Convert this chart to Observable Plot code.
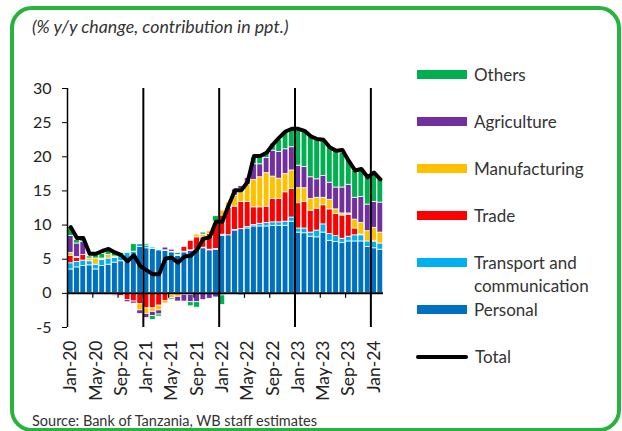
<!DOCTYPE html>
<html><head><meta charset="utf-8">
<script src="https://cdn.jsdelivr.net/npm/d3@7"></script>
<script src="https://cdn.jsdelivr.net/npm/@observablehq/plot@0.6"></script>
<style>
html,body{margin:0;padding:0;background:#fff;}
#wrap{position:relative;width:622px;height:431px;overflow:hidden;font-family:Lato,"DejaVu Sans",sans-serif;background:#fff;}
#chart{position:absolute;left:0;top:0;}
#frame{position:absolute;left:10px;top:6px;width:611px;height:426px;box-sizing:border-box;border:4.5px solid #28B43C;border-radius:22px;pointer-events:none;}
#title{position:absolute;left:32px;top:16px;font-size:17.8px;line-height:20px;font-style:italic;color:#333;white-space:nowrap;}
#source{position:absolute;left:32px;top:413px;font-size:14.5px;line-height:16px;color:#333;white-space:nowrap;}
#legend{position:absolute;left:417px;top:63px;}
.item{display:flex;height:47px;align-items:flex-start;}
.sw{width:50px;height:9px;margin-top:7px;flex:none;}
.swline{width:52px;height:4.5px;margin-top:9.5px;margin-left:-1px;border-radius:2.5px;background:#000;flex:none;}
.lab{margin-left:7px;font-size:17px;line-height:23px;color:#333;white-space:nowrap;}
</style>
</head><body>
<div id="wrap">
  <div id="chart"></div>
  <div id="title">(% y/y change, contribution in ppt.)</div>
  <div id="legend"></div>
  <div id="source">Source: Bank of Tanzania, WB staff estimates</div>
  <div id="frame"></div>
</div>
<script>
const months = ["Jan-20","Feb-20","Mar-20","Apr-20","May-20","Jun-20","Jul-20","Aug-20","Sep-20","Oct-20","Nov-20","Dec-20",
"Jan-21","Feb-21","Mar-21","Apr-21","May-21","Jun-21","Jul-21","Aug-21","Sep-21","Oct-21","Nov-21","Dec-21",
"Jan-22","Feb-22","Mar-22","Apr-22","May-22","Jun-22","Jul-22","Aug-22","Sep-22","Oct-22","Nov-22","Dec-22",
"Jan-23","Feb-23","Mar-23","Apr-23","May-23","Jun-23","Jul-23","Aug-23","Sep-23","Oct-23","Nov-23","Dec-23",
"Jan-24","Feb-24"];

const seriesNames = ["Personal","Transport and communication","Trade","Manufacturing","Agriculture","Others"];
const seriesColors = ["#0070C0","#00B0F0","#FF0000","#FFC000","#7030A0","#00B050"];

const personal = [3.5,3.8,4.0,4.1,3.5,4.0,4.2,4.5,4.7,4.9,5.4,6.8,
6.6,6.5,6.3,6.2,6.0,5.5,6.0,6.2,6.3,6.6,6.3,6.4,
8.4,8.5,9.2,9.4,9.5,9.8,9.8,9.8,9.9,9.9,9.9,10.5,
8.9,8.8,8.3,8.2,8.9,7.7,7.5,7.4,7.6,7.6,7.6,6.8,
6.6,6.4];
const transport = [0.9,0.8,0.8,0.6,0.7,0.9,0.9,0.7,0.9,1.0,0.7,0.4,
0.4,0.2,0.1,0.1,0.1,0.1,0.1,0.1,0.1,0.1,0.1,0.1,
0.2,-0.1,0.1,-0.3,0.2,0.2,0.4,0.5,0.5,0.5,0.6,0.6,
0.6,0.7,0.6,1.0,1.2,1.0,0.9,0.6,0.7,0.9,0.9,0.8,
0.9,0.9];
const trade = [1.1,0.6,0.8,0.0,-0.2,-0.1,-0.2,-0.3,-0.4,-1.0,-1.2,-1.6,
-2.2,-2.2,-1.8,-1.1,-0.2,-0.1,0.7,1.4,1.8,1.5,2.3,3.8,
2.8,4.0,3.4,4.0,3.7,2.6,2.4,2.4,3.4,3.4,4.3,4.2,
3.7,3.9,3.2,3.2,2.8,3.6,3.2,3.4,3.2,1.0,0.1,-0.1,
0.2,0.0];
const manufacturing = [0.4,0.1,0.0,0.4,0.9,0.2,0.5,0.2,0.0,0.0,0.0,-0.9,
-0.8,-0.5,-0.7,-0.4,-0.5,-0.4,-0.2,-0.2,0.4,0.4,0.4,0.2,
0.7,0.8,1.6,1.9,2.5,4.0,4.4,4.9,3.3,3.0,2.7,2.7,
2.2,2.0,1.7,1.6,1.1,1.4,0.7,0.3,0.2,1.3,1.7,1.5,
1.9,1.6];
const agriculture = [2.5,2.0,1.9,-0.2,-0.1,0.0,0.0,-0.1,0.0,-0.3,-0.3,-0.5,
-0.6,-0.6,-0.6,0.4,0.3,-0.7,-1.0,-1.1,-1.3,-1.0,-0.8,-0.6,
-0.3,0.0,0.9,0.4,1.0,2.3,1.9,2.2,3.8,3.9,3.6,3.4,
3.3,3.1,3.2,2.7,3.2,2.5,3.2,3.8,4.2,3.2,3.8,3.9,
3.8,4.4];
const others = [1.3,0.5,0.3,0.3,0.5,0.7,0.8,0.5,0.3,0.1,1.1,0.1,
0.2,-0.6,-0.3,0.0,-0.2,0.3,0.0,-0.6,-0.8,0.3,0.0,0.8,
-1.4,0.0,0.0,0.0,0.0,1.0,1.0,0.9,1.0,1.8,2.5,2.6,
5.1,5.1,6.1,5.9,5.1,5.2,5.4,5.1,3.6,4.0,4.2,4.1,
4.3,3.5];
const total = [9.7,8.1,8.1,5.8,5.8,6.2,6.5,6.0,5.6,4.7,5.6,4.0,
3.4,2.8,2.8,5.1,5.2,4.5,5.4,5.5,6.4,8.0,8.2,10.5,
10.5,12.9,15.1,15.1,16.3,20.1,20.1,20.6,21.8,22.8,23.7,24.1,
24.1,23.8,23.0,22.6,22.5,21.4,20.9,21.0,19.4,18.0,18.2,17.0,
17.7,16.7];

const yTicks = [-5,0,5,10,15,20,25,30];
const tickEvery = 4;

const seriesValues = [personal, transport, trade, manufacturing, agriculture, others];

// stack positives up and negatives down, in series order
const rects = [];
months.forEach((m, i) => {
  let pos = 0, neg = 0;
  seriesValues.forEach((vals, s) => {
    const v = vals[i];
    if (!v) return;
    if (v > 0) { rects.push({i, series: seriesNames[s], y1: pos, y2: pos + v}); pos += v; }
    else { rects.push({i, series: seriesNames[s], y1: neg + v, y2: neg}); neg += v; }
  });
});
const totalData = total.map((v, i) => ({i, v}));
const tickIdx = d3.range(0, months.length, tickEvery);
const yearIdx = months.map((m, i) => (i > 0 && m.startsWith("Jan")) ? i : null).filter(d => d !== null);
const yMin = yTicks[0], yMax = yTicks[yTicks.length - 1];

const chart = Plot.plot({
  width: 622, height: 431,
  marginLeft: 67, marginRight: 239, marginTop: 88, marginBottom: 104,
  style: {fontFamily: "Lato, 'DejaVu Sans', sans-serif", color: "#000", background: "transparent"},
  x: {domain: [0, months.length]},
  y: {domain: [yMin, yMax]},
  color: {domain: seriesNames, range: seriesColors},
  marks: [
    Plot.rect(rects, {x1: d => d.i, x2: d => d.i + 1, y1: "y1", y2: "y2", fill: "series",
      insetLeft: 0.3, insetRight: 0.3, stroke: "white", strokeWidth: 0.75}),
    Plot.ruleY([0], {stroke: "#000", strokeWidth: 2}),
    Plot.ruleX(tickIdx, {x: d => d, y1: 0, y2: 0, insetBottom: -5, stroke: "#000", strokeWidth: 1.2}),
    Plot.ruleX(yearIdx, {x: d => d, y1: yMin, y2: yMax, stroke: "#000", strokeWidth: 2}),
    Plot.ruleX([0], {x: d => d, y1: yMin, y2: yMax, stroke: "#000", strokeWidth: 1.5}),
    Plot.line(totalData, {x: d => d.i + 0.5, y: "v", stroke: "#000", strokeWidth: 4, strokeLinejoin: "round", strokeLinecap: "round"}),
    Plot.axisY({ticks: yTicks, tickSize: 5, tickPadding: 11, fontSize: 16, tickFormat: d => String(d), fill: "#222"}),
    Plot.axisX({ticks: tickIdx.map(i => i + 0.5), tickFormat: d => months[d - 0.5], tickSize: 0, tickPadding: 13, tickRotate: -90, fontSize: 17.5, fill: "#222"})
  ]
});
document.getElementById("chart").appendChild(chart);

// legend (top series first)
const legend = document.getElementById("legend");
const legendOrder = seriesNames.map((n, s) => s).reverse();
legendOrder.forEach(s => {
  const item = document.createElement("div");
  item.className = "item";
  const sw = document.createElement("div");
  sw.className = "sw";
  sw.style.background = seriesColors[s];
  const lab = document.createElement("div");
  lab.className = "lab";
  const name = seriesNames[s];
  lab.innerHTML = name === "Transport and communication" ? "Transport and<br>communication" : name;
  item.appendChild(sw); item.appendChild(lab);
  legend.appendChild(item);
});
const tItem = document.createElement("div");
tItem.className = "item";
tItem.innerHTML = '<div class="swline"></div><div class="lab">Total</div>';
legend.appendChild(tItem);
</script>
</body></html>
